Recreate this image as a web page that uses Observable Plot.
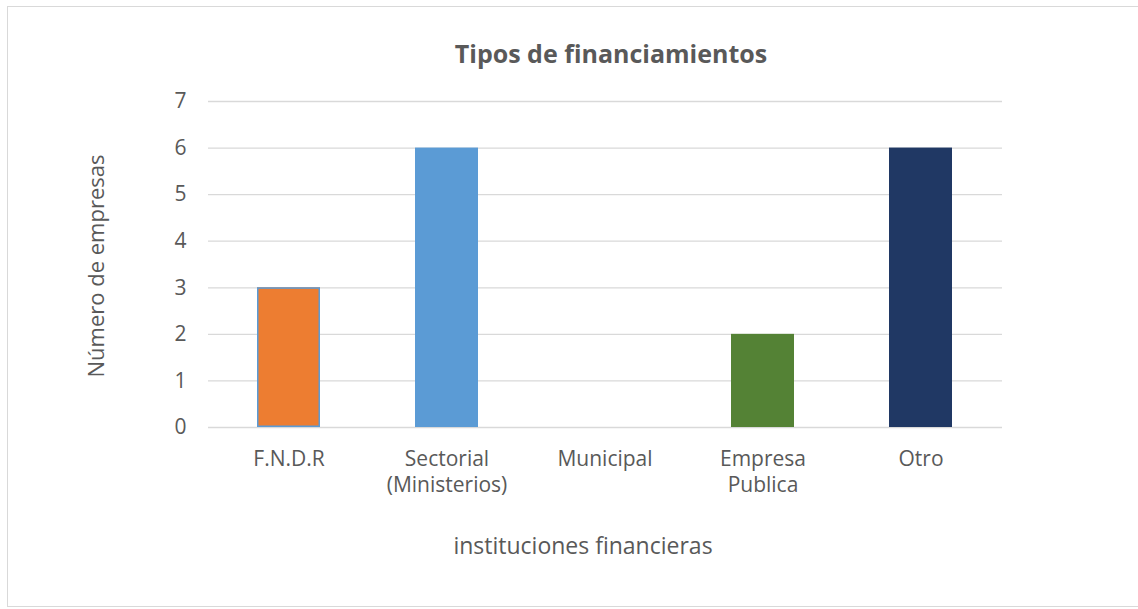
<!DOCTYPE html>
<html>
<head>
<meta charset="utf-8">
<script src="https://cdn.jsdelivr.net/npm/d3@7"></script>
<script src="https://cdn.jsdelivr.net/npm/@observablehq/plot@0.6"></script>
<style>
  html, body { margin: 0; padding: 0; background: #fff; }
  #wrap { position: relative; width: 1138px; height: 609px; overflow: hidden; font-family: "Open Sans", sans-serif; color: #595959; }
  #border { position: absolute; left: 7px; top: 6px; width: 1140px; height: 601px; border: 1px solid #d9d9d9; box-sizing: border-box; }
  #title { position: absolute; left: 0; width: 1222px; top: 33px; text-align: center; font-size: 25px; font-weight: bold; line-height: 40px; white-space: nowrap; }
  #xtitle { position: absolute; left: 0; width: 1166px; top: 529px; text-align: center; font-size: 23px; line-height: 32px; white-space: nowrap; }
  #ytitle { position: absolute; left: 95px; top: 266px; transform: translate(-50%, -50%) rotate(-90deg); font-size: 22px; white-space: nowrap; }
  #chart { position: absolute; left: 0; top: 0; }
</style>
</head>
<body>
<div id="wrap">
  <div id="border"></div>
  <div id="chart"></div>
  <div id="title">Tipos de financiamientos</div>
  <div id="ytitle">Número de empresas</div>
  <div id="xtitle">instituciones financieras</div>
</div>
<script>
const categories = ["F.N.D.R", "Sectorial (Ministerios)", "Municipal", "Empresa Publica", "Otro"];
const tickLabels = ["F.N.D.R", "Sectorial\n(Ministerios)", "Municipal", "Empresa\nPublica", "Otro"];
const values = [3, 6, 0, 2, 6];
const barColors = ["#ED7D31", "#5B9BD5", "#A5A5A5", "#548235", "#203864"];
const yTicks = [0, 1, 2, 3, 4, 5, 6, 7];

const data = categories.map((c, i) => ({category: c, value: values[i]}));

const chart = Plot.plot({
  width: 1138,
  height: 609,
  marginLeft: 208,
  marginRight: 136,
  marginTop: 101,
  marginBottom: 182,
  style: {fontFamily: "'Open Sans', sans-serif", fontSize: "21px", color: "#595959", background: "transparent", overflow: "visible"},
  x: {domain: categories, paddingInner: 0.6, paddingOuter: 0.3, label: null},
  y: {domain: [0, 7], label: null},
  color: {domain: categories, range: barColors},
  marks: [
    Plot.gridY(yTicks, {stroke: "#d9d9d9", strokeOpacity: 1, strokeWidth: 1.3}),
    Plot.barY(data, {x: "category", y: "value", fill: "category"}),
    Plot.barY(data.filter(d => d.category === "F.N.D.R"), {x: "category", y: "value", fill: "none", stroke: "#5B9BD5", strokeWidth: 1.5, inset: 0.75}),
    Plot.axisY(yTicks, {tickSize: 0, tickPadding: 22, fontSize: 21, label: null}),
    Plot.axisX({tickSize: 0, tickPadding: 21, fontSize: 21, lineHeight: 1.2, label: null,
      tickFormat: d => tickLabels[categories.indexOf(d)]})
  ]
});
document.getElementById("chart").appendChild(chart);
</script>
</body>
</html>
